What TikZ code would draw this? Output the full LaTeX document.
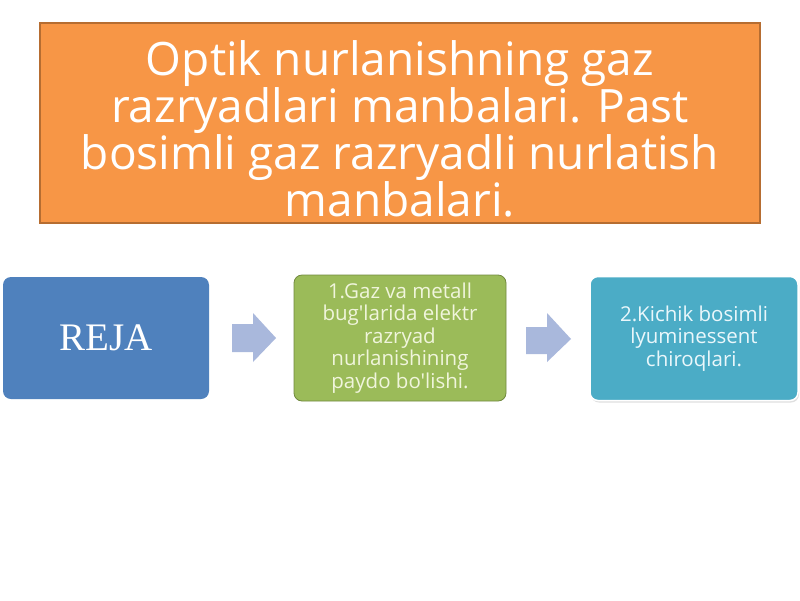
\documentclass[tikz,border=0pt]{standalone}
\usepackage{fontspec}
\setmainfont{Open Sans}[Ligatures=TeXOff]
\newfontfamily\rejafont{Liberation Serif}
\usetikzlibrary{shadows}
\definecolor{orangefill}{HTML}{F79646}
\definecolor{orangeline}{HTML}{B66D31}
\definecolor{bluefill}{HTML}{4F81BD}
\definecolor{greenfill}{HTML}{9BBB59}
\definecolor{greenline}{HTML}{71893F}
\definecolor{cyanfill}{HTML}{4BACC6}
\definecolor{arrowfill}{HTML}{A9B8DC}
\definecolor{greentext}{HTML}{F0F5DC}
\definecolor{cyantext}{HTML}{EAF7FB}
\tikzset{
  titlebox/.style={draw=orangeline, line width=1.2pt, fill=orangefill, minimum width=720pt, minimum height=200pt, inner sep=0pt},
  titletext/.style={inner sep=0pt, text=white, align=center, font=\fontsize{46}{42.5}\selectfont},
  stepbox/.style={rounded corners=8pt, inner sep=0pt, align=center},
  flowarrow/.style={fill=arrowfill, draw=none}
}
\begin{document}
\begin{tikzpicture}[x=1pt,y=-1pt]
\useasboundingbox (0,0) rectangle (800,600);
\fill[white] (0,0) rectangle (800,600);
\node[titlebox] (title) at (400,123) {};
\node[titletext] (titletxt) at (400,129) {Optik nurlanishning gaz\\razryadlari manbalari. Past\\bosimli gaz razryadli nurlatish\\manbalari.};
\node[stepbox, fill=bluefill, minimum width=206pt, minimum height=122pt, text=white, font=\rejafont\fontsize{39}{40}\selectfont] (reja) at (106,338) {REJA};
\node[stepbox, fill=greenfill, draw=greenline, line width=0.8pt, minimum width=212pt, minimum height=126pt, text=greentext, font=\fontsize{20.5}{22.5}\selectfont] (gaz) at (400,338) {1.Gaz va metall\\bug'larida elektr\\razryad\\nurlanishining\\paydo bo'lishi.};
\node[stepbox, fill=cyanfill, draw=white, line width=1.5pt, drop shadow={opacity=0.25, shadow xshift=1pt, shadow yshift=-2pt}, minimum width=208pt, minimum height=124pt, text=cyantext, font=\fontsize{20.5}{22.5}\selectfont] (kichik) at (694,338.5) {2.Kichik bosimli\\lyuminessent\\chiroqlari.};
\coordinate (a1) at (232,338);
\coordinate (a2) at (526,340);
\fill[flowarrow] (a1) ++(0,-14) -- ++(21,0) -- ++(0,-11) -- ++(23,25) -- ++(-23,24) -- ++(0,-10) -- ++(-21,0) -- cycle;
\fill[flowarrow] (a2) ++(0,-13) -- ++(21,0) -- ++(0,-14) -- ++(24,26) -- ++(-24,23) -- ++(0,-8) -- ++(-21,0) -- cycle;
\end{tikzpicture}
\end{document}
